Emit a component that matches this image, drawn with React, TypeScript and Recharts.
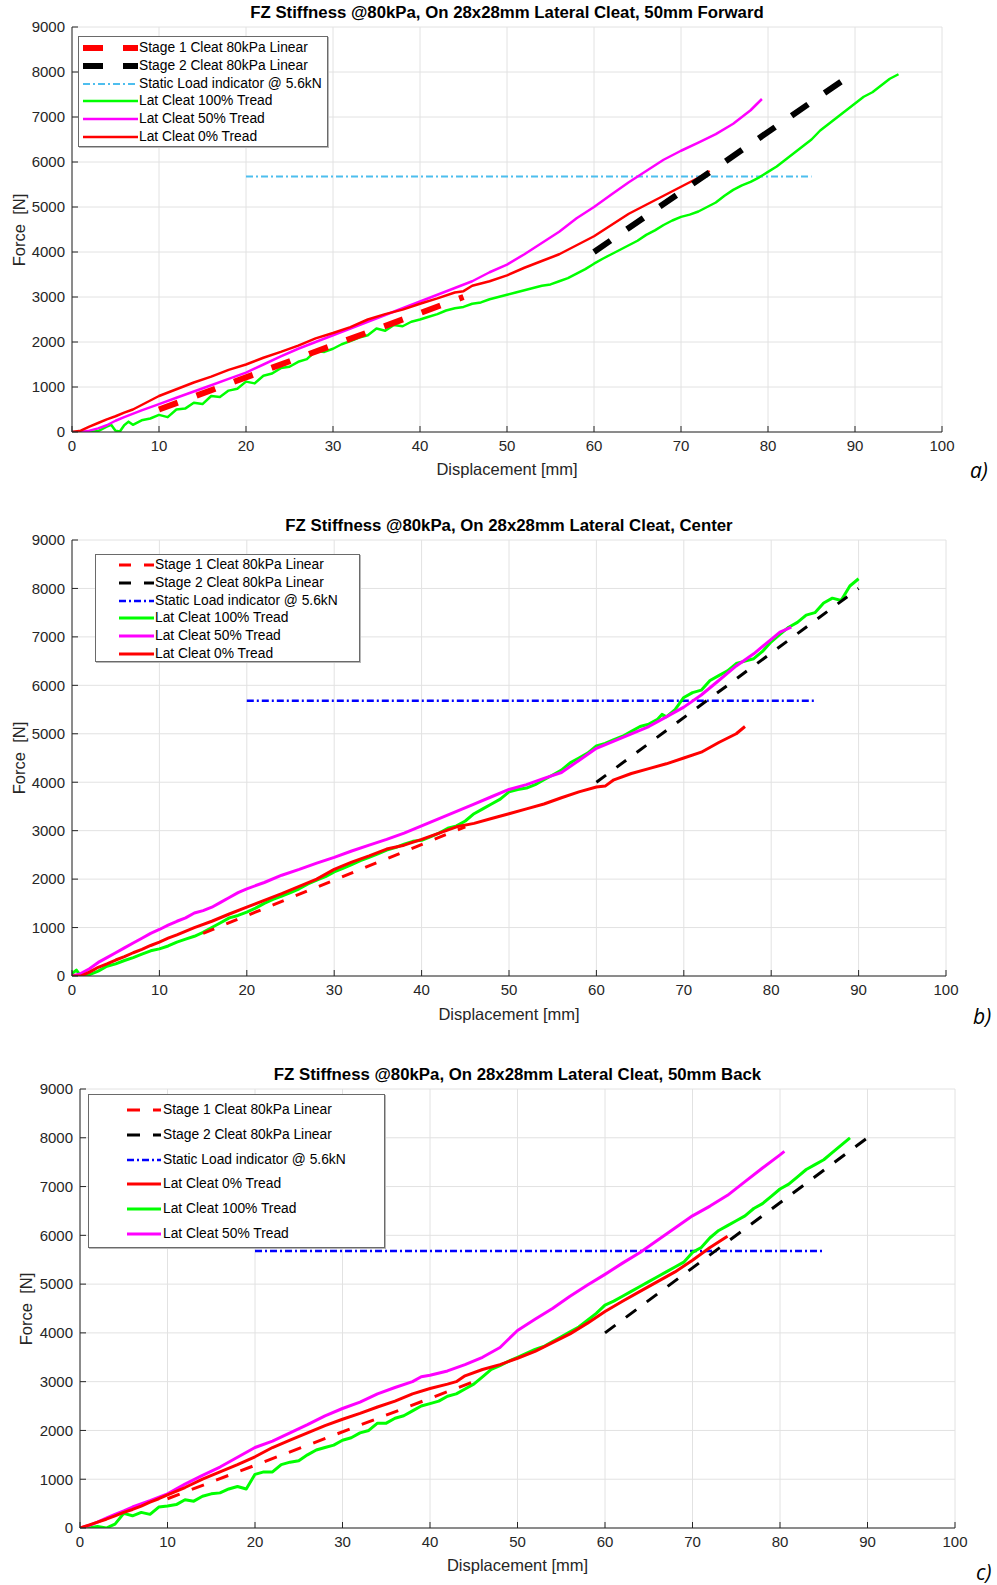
import React from 'react';
import { LineChart, Line, XAxis, YAxis, CartesianGrid } from 'recharts';

type Pt = [number, number];

// ---------- shared axis ticks ----------
const xTicks = [0, 10, 20, 30, 40, 50, 60, 70, 80, 90, 100];
const yTicks = [0, 1000, 2000, 3000, 4000, 5000, 6000, 7000, 8000, 9000];

// ---------- linear / indicator lines ----------
const aStage1: Pt[] = [[10, 500], [45, 3000]];
const aStage2: Pt[] = [[60, 4000], [90, 8000]];
const aStatic: Pt[] = [[20, 5680], [85, 5680]];

const bStage1: Pt[] = [[15, 880], [45, 3080]];
const bStage2: Pt[] = [[60, 4000], [90, 8000]];
const bStatic: Pt[] = [[20, 5680], [85, 5680]];

const cStage1: Pt[] = [[10, 600], [45, 3000]];
const cStage2: Pt[] = [[60, 4000], [90, 8000]];
const cStatic: Pt[] = [[20, 5680], [85, 5680]];

// ---------- chart a: 50mm Forward ----------
const aTread100: Pt[] = [[0, 0], [1, 0], [2, 0], [3, 20], [4, 120], [4.5, 160], [5, 30], [5.5, 10], [6, 150], [6.5, 230], [7, 160], [8, 260], [9, 300], [10, 380], [11, 330], [12, 500], [13, 520], [14, 650], [15, 620], [16, 800], [17, 780], [18, 920], [19, 960], [20, 1120], [21, 1080], [22, 1250], [23, 1300], [24, 1420], [25, 1450], [26, 1560], [27, 1620], [28, 1800], [29, 1780], [30, 1850], [31, 1950], [32, 2020], [33, 2100], [34, 2150], [35, 2300], [36, 2250], [37, 2380], [38, 2350], [39, 2450], [40, 2500], [41, 2560], [42, 2620], [43, 2700], [44, 2750], [45, 2780], [46, 2850], [47, 2880], [48, 2950], [49, 3000], [50, 3050], [51, 3100], [52, 3150], [53, 3200], [54, 3250], [55, 3280], [56, 3350], [57, 3420], [58, 3520], [59, 3620], [60, 3740], [61, 3850], [62, 3950], [63, 4050], [64, 4150], [65, 4250], [66, 4380], [67, 4480], [68, 4600], [69, 4700], [70, 4780], [71, 4830], [72, 4900], [73, 5000], [74, 5100], [75, 5250], [76, 5380], [77, 5480], [78, 5560], [79, 5660], [80, 5780], [81, 5900], [82, 6050], [83, 6200], [84, 6350], [85, 6500], [86, 6700], [87, 6850], [88, 7000], [89, 7150], [90, 7300], [91, 7450], [92, 7550], [93, 7700], [94, 7850], [95, 7950]];
const aTread50: Pt[] = [[0, 0], [1, 0], [2, 30], [3, 80], [4, 150], [5, 250], [6, 330], [8, 480], [10, 620], [12, 760], [14, 900], [16, 1040], [18, 1180], [20, 1320], [22, 1500], [24, 1680], [26, 1850], [28, 2000], [30, 2150], [32, 2300], [34, 2450], [36, 2600], [38, 2750], [40, 2900], [42, 3050], [44, 3200], [46, 3350], [48, 3550], [50, 3720], [52, 3950], [54, 4200], [56, 4450], [58, 4750], [60, 5000], [62, 5280], [64, 5550], [66, 5800], [68, 6050], [70, 6250], [72, 6430], [74, 6620], [76, 6850], [78, 7150], [79.3, 7400]];
const aTread0: Pt[] = [[0, 0], [1, 30], [2, 120], [3, 200], [4, 280], [5, 350], [6, 430], [7, 500], [8, 600], [9, 700], [10, 800], [12, 950], [14, 1100], [16, 1230], [18, 1380], [20, 1500], [22, 1650], [24, 1780], [26, 1920], [28, 2080], [30, 2200], [32, 2330], [34, 2500], [36, 2620], [38, 2720], [40, 2850], [42, 2970], [44, 3100], [45, 3130], [46, 3250], [48, 3350], [50, 3480], [52, 3650], [54, 3800], [56, 3950], [58, 4150], [60, 4350], [62, 4600], [64, 4850], [66, 5050], [68, 5250], [70, 5450], [72, 5650], [73.3, 5800]];

// ---------- chart b: Center ----------
const bTread100: Pt[] = [[0, 50], [0.5, 120], [1, 0], [2, 30], [3, 100], [4, 200], [5, 250], [6, 320], [7, 380], [8, 450], [9, 520], [10, 560], [11, 620], [12, 700], [13, 760], [14, 820], [15, 900], [16, 1000], [17, 1100], [18, 1200], [19, 1250], [20, 1320], [21, 1400], [22, 1500], [23, 1580], [24, 1650], [25, 1720], [26, 1800], [27, 1900], [28, 1980], [29, 2050], [30, 2150], [31, 2220], [32, 2300], [33, 2380], [34, 2450], [35, 2520], [36, 2600], [37, 2650], [38, 2720], [39, 2780], [40, 2800], [41, 2870], [42, 2950], [43, 3050], [44, 3100], [45, 3200], [46, 3350], [47, 3450], [48, 3550], [49, 3650], [50, 3800], [51, 3850], [52, 3880], [53, 3950], [54, 4050], [55, 4150], [56, 4250], [57, 4400], [58, 4500], [59, 4600], [60, 4750], [61, 4800], [62, 4880], [63, 4950], [64, 5050], [65, 5150], [66, 5200], [67, 5300], [67.5, 5400], [68, 5350], [69, 5500], [70, 5750], [71, 5850], [72, 5900], [73, 6100], [74, 6200], [75, 6300], [76, 6450], [77, 6500], [78, 6550], [79, 6700], [80, 6900], [81, 7050], [82, 7200], [83, 7300], [84, 7450], [85, 7500], [86, 7700], [87, 7800], [88, 7750], [89, 8050], [90, 8200]];
const bTread50: Pt[] = [[0, 0], [1, 50], [2, 150], [3, 280], [4, 380], [5, 480], [6, 580], [7, 680], [8, 780], [9, 880], [10, 960], [11, 1050], [12, 1130], [13, 1200], [14, 1300], [15, 1350], [16, 1420], [17, 1520], [18, 1620], [19, 1720], [20, 1800], [22, 1930], [24, 2080], [26, 2200], [28, 2330], [30, 2450], [32, 2580], [34, 2700], [36, 2820], [38, 2950], [40, 3100], [42, 3250], [44, 3400], [46, 3550], [48, 3700], [50, 3850], [52, 3950], [54, 4080], [56, 4200], [58, 4450], [60, 4700], [62, 4850], [64, 5000], [66, 5150], [68, 5350], [70, 5550], [72, 5800], [74, 6100], [76, 6400], [78, 6650], [80, 6950], [81, 7100], [82.3, 7200]];
const bTread0: Pt[] = [[0, 0], [1, 0], [2, 80], [3, 180], [4, 250], [5, 330], [6, 400], [7, 480], [8, 550], [9, 630], [10, 700], [11, 780], [12, 850], [14, 1000], [16, 1130], [18, 1280], [20, 1420], [22, 1560], [24, 1700], [26, 1850], [28, 2000], [30, 2200], [32, 2350], [34, 2480], [36, 2620], [38, 2700], [40, 2820], [42, 2950], [44, 3080], [46, 3150], [48, 3250], [50, 3350], [52, 3450], [54, 3550], [56, 3680], [58, 3800], [60, 3900], [61, 3920], [62, 4050], [64, 4180], [66, 4280], [68, 4380], [70, 4500], [72, 4620], [74, 4820], [76, 5000], [77, 5150]];

// ---------- chart c: 50mm Back ----------
const cTread0: Pt[] = [[0, 0], [1, 60], [2, 120], [3, 180], [4, 250], [5, 320], [6, 380], [7, 450], [8, 530], [9, 600], [10, 680], [12, 830], [14, 1000], [16, 1150], [18, 1300], [20, 1460], [22, 1650], [24, 1800], [26, 1950], [28, 2100], [30, 2230], [32, 2350], [34, 2480], [36, 2600], [38, 2750], [40, 2860], [42, 2950], [43, 3000], [44, 3120], [46, 3250], [48, 3350], [50, 3480], [52, 3620], [54, 3800], [56, 3980], [58, 4200], [60, 4440], [62, 4650], [64, 4850], [66, 5050], [68, 5250], [70, 5490], [72, 5750], [74, 5980]];
const cTread100: Pt[] = [[0, 0], [1, 0], [2, 30], [3, 0], [4, 80], [5, 300], [6, 250], [7, 320], [8, 280], [9, 430], [10, 450], [11, 480], [12, 580], [13, 550], [14, 650], [15, 700], [16, 720], [17, 800], [18, 850], [19, 800], [20, 1100], [21, 1150], [22, 1150], [23, 1300], [24, 1350], [25, 1380], [26, 1500], [27, 1600], [28, 1650], [29, 1700], [30, 1800], [31, 1850], [32, 1950], [33, 2000], [34, 2150], [35, 2150], [36, 2250], [37, 2300], [38, 2400], [39, 2500], [40, 2550], [41, 2600], [42, 2700], [43, 2750], [44, 2850], [45, 2950], [46, 3100], [47, 3250], [48, 3330], [49, 3420], [50, 3500], [51, 3580], [52, 3660], [53, 3720], [54, 3820], [55, 3920], [56, 4020], [57, 4120], [58, 4260], [59, 4400], [60, 4570], [61, 4650], [62, 4750], [63, 4850], [64, 4950], [65, 5050], [66, 5150], [67, 5250], [68, 5350], [69, 5450], [70, 5650], [71, 5750], [72, 5950], [73, 6100], [74, 6200], [75, 6300], [76, 6400], [77, 6550], [78, 6650], [79, 6800], [80, 6950], [81, 7050], [82, 7200], [83, 7350], [84, 7450], [85, 7550], [86, 7700], [87, 7850], [88, 8000]];
const cTread50: Pt[] = [[0, 0], [1, 50], [2, 120], [3, 200], [4, 280], [5, 350], [6, 430], [8, 560], [10, 700], [12, 900], [14, 1080], [16, 1250], [18, 1450], [20, 1650], [22, 1780], [24, 1950], [26, 2120], [28, 2300], [30, 2450], [32, 2580], [34, 2750], [36, 2880], [38, 3000], [39, 3100], [40, 3130], [42, 3220], [44, 3350], [46, 3500], [48, 3700], [50, 4050], [52, 4280], [54, 4500], [56, 4750], [58, 4980], [60, 5200], [62, 5430], [64, 5650], [66, 5900], [68, 6150], [70, 6400], [72, 6600], [74, 6820], [76, 7100], [78, 7380], [80, 7650], [80.5, 7720]];

// ---------- labels ----------
const titles = [
  'FZ Stiffness @80kPa, On 28x28mm Lateral Cleat, 50mm Forward',
  'FZ Stiffness @80kPa, On 28x28mm Lateral Cleat, Center',
  'FZ Stiffness @80kPa, On 28x28mm Lateral Cleat, 50mm Back',
];
const panelTags = ['a)', 'b)', 'c)'];
const xLabel = 'Displacement [mm]';
const yLabel = 'Force  [N]';
const nStage1 = 'Stage 1 Cleat 80kPa Linear';
const nStage2 = 'Stage 2 Cleat 80kPa Linear';
const nStatic = 'Static Load indicator @ 5.6kN';
const n100 = 'Lat Cleat 100% Tread';
const n50 = 'Lat Cleat 50% Tread';
const n0 = 'Lat Cleat 0% Tread';

const FONT = '"Liberation Sans", Arial, Helvetica, sans-serif';
const AXIS = '#262626';
const GREEN = '#00ff00';
const MAGENTA = '#ff00ff';
const RED = '#ff0000';
const BLACK = '#000000';

interface Series {
  name: string;
  pts: Pt[];
  color: string;
  width: number;
  dash?: string;
}

interface LegendCfg {
  left: number;
  top: number;
  width: number;
  height: number;
  firstRow: number;
  rowGap: number;
  sampleX: number;
  sampleW: number;
  textX: number;
  order: Series[];
}

interface PanelCfg {
  plotLeft: number;
  plotRight: number;
  plotTop: number;
  plotBottom: number;
  title: string;
  titleY: number;
  xLabelY: number;
  yLabelX: number;
  tag: string;
  tagX: number;
  tagY: number;
  draw: Series[];
  legend: LegendCfg;
}

const toRows = (pts: Pt[]) => pts.map(([x, y]) => ({ x, y }));

function Legend({ cfg }: { cfg: LegendCfg }) {
  return (
    <div
      style={{
        position: 'absolute',
        left: cfg.left,
        top: cfg.top,
        width: cfg.width,
        height: cfg.height,
        border: '1px solid #6a6a6a',
        boxSizing: 'border-box',
        background: '#ffffff',
        boxShadow: '1px 1px 0 #b8b8b8',
      }}
    >
      {cfg.order.map((s, i) => {
        const cy = cfg.firstRow + i * cfg.rowGap;
        return (
          <React.Fragment key={s.name}>
            <svg
              width={cfg.sampleW}
              height={10}
              style={{ position: 'absolute', left: cfg.sampleX, top: cy - 5 }}
            >
              <line
                x1={0}
                y1={5}
                x2={cfg.sampleW}
                y2={5}
                stroke={s.color}
                strokeWidth={s.width}
                strokeDasharray={s.dash}
              />
            </svg>
            <div
              style={{
                position: 'absolute',
                left: cfg.textX,
                top: cy - 8,
                height: 16,
                lineHeight: '16px',
                fontSize: 13.8,
                fontFamily: FONT,
                color: '#000',
                whiteSpace: 'nowrap',
              }}
            >
              {s.name}
            </div>
          </React.Fragment>
        );
      })}
    </div>
  );
}

function Panel({ cfg }: { cfg: PanelCfg }) {
  const yAxisW = 60;
  const xAxisH = 30;
  const padTop = 10;
  const chartTop = cfg.plotTop - padTop;
  const plotH = cfg.plotBottom - cfg.plotTop;
  const chartH = padTop + plotH + xAxisH + 10;
  const tickStyle = { fill: AXIS, fontSize: 15, fontFamily: FONT };
  const plotCx = (cfg.plotLeft + cfg.plotRight) / 2;
  const plotCy = (cfg.plotTop + cfg.plotBottom) / 2;
  return (
    <>
      <div style={{ position: 'absolute', left: 0, top: chartTop }}>
        <LineChart
          width={997}
          height={chartH}
          margin={{ top: padTop, left: cfg.plotLeft - yAxisW, right: 997 - cfg.plotRight, bottom: 10 }}
        >
          <CartesianGrid stroke="#e2e2e2" strokeWidth={1} horizontalValues={yTicks} verticalValues={xTicks} />
          <XAxis
            dataKey="x"
            type="number"
            domain={[0, 100]}
            allowDataOverflow
            ticks={xTicks}
            interval={0}
            height={xAxisH}
            tickSize={-6}
            tickMargin={14}
            tick={tickStyle}
            stroke={AXIS}
            axisLine={{ stroke: AXIS }}
            tickLine={{ stroke: AXIS }}
          />
          <XAxis
            xAxisId="top"
            orientation="top"
            dataKey="x"
            type="number"
            domain={[0, 100]}
            allowDataOverflow
            ticks={xTicks}
            interval={0}
            height={0}
            tickSize={-6}
            tickFormatter={() => ''}
            stroke={AXIS}
            axisLine={{ stroke: AXIS }}
            tickLine={{ stroke: AXIS }}
          />
          <YAxis
            type="number"
            domain={[0, 9000]}
            allowDataOverflow
            ticks={yTicks}
            interval={0}
            width={yAxisW}
            tickSize={-6}
            tickMargin={13}
            tick={tickStyle}
            stroke={AXIS}
            axisLine={{ stroke: AXIS }}
            tickLine={{ stroke: AXIS }}
          />
          <YAxis
            yAxisId="right"
            orientation="right"
            type="number"
            domain={[0, 9000]}
            allowDataOverflow
            ticks={yTicks}
            interval={0}
            width={0}
            tickSize={-6}
            tickFormatter={() => ''}
            stroke={AXIS}
            axisLine={{ stroke: AXIS }}
            tickLine={{ stroke: AXIS }}
          />
          {cfg.draw.map((s) => (
            <Line
              key={s.name}
              data={toRows(s.pts)}
              dataKey="y"
              type="linear"
              stroke={s.color}
              strokeWidth={s.width}
              strokeDasharray={s.dash}
              dot={false}
              activeDot={false}
              isAnimationActive={false}
              strokeLinejoin="round"
            />
          ))}
        </LineChart>
      </div>
      <div
        style={{
          position: 'absolute',
          left: plotCx - 400,
          width: 800,
          top: cfg.titleY - 10,
          height: 20,
          lineHeight: '20px',
          textAlign: 'center',
          fontFamily: FONT,
          fontWeight: 'bold',
          fontSize: 16.8,
          color: '#000',
          whiteSpace: 'nowrap',
        }}
      >
        {cfg.title}
      </div>
      <div
        style={{
          position: 'absolute',
          left: plotCx - 200,
          width: 400,
          top: cfg.xLabelY - 10,
          height: 20,
          lineHeight: '20px',
          textAlign: 'center',
          fontFamily: FONT,
          fontSize: 16.5,
          color: AXIS,
        }}
      >
        {xLabel}
      </div>
      <div
        style={{
          position: 'absolute',
          left: cfg.yLabelX - 100,
          width: 200,
          top: plotCy - 10,
          height: 20,
          lineHeight: '20px',
          textAlign: 'center',
          fontFamily: FONT,
          fontSize: 16.5,
          color: AXIS,
          transform: 'rotate(-90deg)',
          whiteSpace: 'pre',
        }}
      >
        {yLabel}
      </div>
      <div
        style={{
          position: 'absolute',
          left: cfg.tagX,
          top: cfg.tagY - 14,
          height: 28,
          lineHeight: '28px',
          fontFamily: '"Open Sans", "DejaVu Sans", sans-serif',
          fontStyle: 'italic',
          fontSize: 21,
          color: '#000',
        }}
      >
        {cfg.tag}
      </div>
      <Legend cfg={cfg.legend} />
    </>
  );
}

// ---------- series definitions ----------
const sA1: Series = { name: nStage1, pts: aStage1, color: RED, width: 6, dash: '20 20' };
const sA2: Series = { name: nStage2, pts: aStage2, color: BLACK, width: 6, dash: '20 20' };
const sAS: Series = { name: nStatic, pts: aStatic, color: '#4dbeee', width: 2, dash: '7 3 2 3' };
const sA100: Series = { name: n100, pts: aTread100, color: GREEN, width: 2.5 };
const sA50: Series = { name: n50, pts: aTread50, color: MAGENTA, width: 2.5 };
const sA0: Series = { name: n0, pts: aTread0, color: RED, width: 2.5 };

const sB1: Series = { name: nStage1, pts: bStage1, color: RED, width: 3, dash: '12 13' };
const sB2: Series = { name: nStage2, pts: bStage2, color: BLACK, width: 3, dash: '12 13' };
const sBS: Series = { name: nStatic, pts: bStatic, color: '#0000ff', width: 2.5, dash: '7 3 2 3' };
const sB100: Series = { name: n100, pts: bTread100, color: GREEN, width: 3 };
const sB50: Series = { name: n50, pts: bTread50, color: MAGENTA, width: 3 };
const sB0: Series = { name: n0, pts: bTread0, color: RED, width: 3 };

const sC1: Series = { name: nStage1, pts: cStage1, color: RED, width: 3, dash: '13 13' };
const sC2: Series = { name: nStage2, pts: cStage2, color: BLACK, width: 3, dash: '13 13' };
const sCS: Series = { name: nStatic, pts: cStatic, color: '#0000ff', width: 2.5, dash: '7 3 2 3' };
const sC0: Series = { name: n0, pts: cTread0, color: RED, width: 3 };
const sC100: Series = { name: n100, pts: cTread100, color: GREEN, width: 3 };
const sC50: Series = { name: n50, pts: cTread50, color: MAGENTA, width: 3 };

const panelA: PanelCfg = {
  plotLeft: 72, plotRight: 942, plotTop: 27, plotBottom: 432,
  title: titles[0], titleY: 13, xLabelY: 469, yLabelX: 19,
  tag: panelTags[0], tagX: 970, tagY: 470,
  draw: [sAS, sA100, sA50, sA0, sA1, sA2],
  legend: {
    left: 78, top: 36, width: 250, height: 111, firstRow: 11, rowGap: 17.8,
    sampleX: 4, sampleW: 55, textX: 60, order: [sA1, sA2, sAS, sA100, sA50, sA0],
  },
};

const panelB: PanelCfg = {
  plotLeft: 72, plotRight: 946, plotTop: 540, plotBottom: 976,
  title: titles[1], titleY: 526, xLabelY: 1014, yLabelX: 19,
  tag: panelTags[1], tagX: 973, tagY: 1016,
  draw: [sBS, sB100, sB50, sB0, sB1, sB2],
  legend: {
    left: 95, top: 554, width: 265, height: 108, firstRow: 10, rowGap: 17.8,
    sampleX: 23, sampleW: 35, textX: 59, order: [sB1, sB2, sBS, sB100, sB50, sB0],
  },
};

const panelC: PanelCfg = {
  plotLeft: 80, plotRight: 955, plotTop: 1089, plotBottom: 1528,
  title: titles[2], titleY: 1075, xLabelY: 1565, yLabelX: 26,
  tag: panelTags[2], tagX: 976, tagY: 1572,
  draw: [sCS, sC100, sC50, sC0, sC1, sC2],
  legend: {
    left: 88, top: 1094, width: 297, height: 154, firstRow: 15, rowGap: 24.8,
    sampleX: 38, sampleW: 34, textX: 74, order: [sC1, sC2, sCS, sC0, sC100, sC50],
  },
};

export default function App() {
  return (
    <div style={{ position: 'absolute', left: 0, top: 0, width: 997, height: 1585, background: '#ffffff', overflow: 'hidden' }}>
      <Panel cfg={panelA} />
      <Panel cfg={panelB} />
      <Panel cfg={panelC} />
    </div>
  );
}
